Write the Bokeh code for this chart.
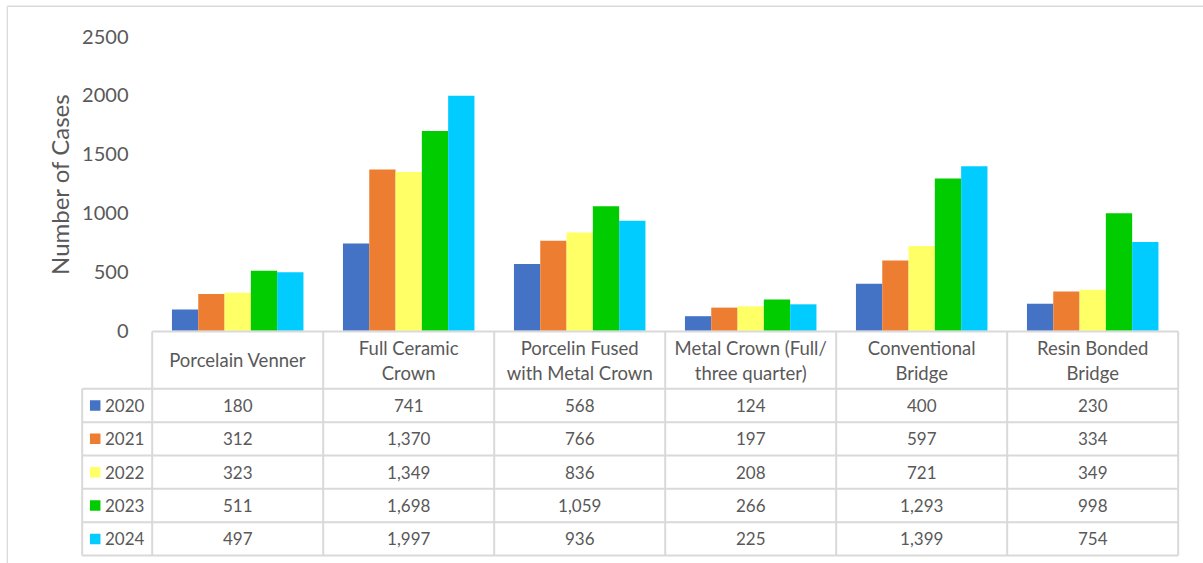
import math
from bokeh.plotting import figure
from bokeh.models import Range1d, FixedTicker
from bokeh.core.properties import value
from bokeh.embed import file_html
from bokeh.resources import INLINE

# ---------------- data ----------------
categories = ["Porcelain Venner", "Full Ceramic\nCrown", "Porcelin Fused\nwith Metal Crown",
              "Metal Crown (Full/\nthree quarter)", "Conventional\nBridge", "Resin Bonded\nBridge"]
years = ["2020", "2021", "2022", "2023", "2024"]
v2020 = [180, 741, 568, 124, 400, 230]
v2021 = [312, 1370, 766, 197, 597, 334]
v2022 = [323, 1349, 836, 208, 721, 349]
v2023 = [511, 1698, 1059, 266, 1293, 998]
v2024 = [497, 1997, 936, 225, 1399, 754]
series = [v2020, v2021, v2022, v2023, v2024]
colors = ["#4472C4", "#ED7D31", "#FFFF66", "#00CC00", "#00CCFF"]
y_ticks = [0, 500, 1000, 1500, 2000, 2500]
y_title = "Number of Cases"

# ---------------- layout constants (page pixels) ----------------
W, H = 1203, 563
LEFT = 6                       # left panel width
CAT_PX = 171.0                 # width of one category column
CAT0 = 151.7                   # page x of first category column
ZERO = 330.3                   # page y of value 0
PPU = 0.1177                   # pixels per value unit
FONT_NAME = "Lato"
FONT = value(FONT_NAME)
TXT = "#595959"
GRID = "#D9D9D9"

x_start = (LEFT - CAT0) / CAT_PX
x_end = (W - CAT0) / CAT_PX
y_top = ZERO / PPU
y_bot = -(H - ZERO) / PPU

p = figure(width=W, height=H, output_backend="svg", toolbar_location=None,
           x_range=Range1d(x_start, x_end), y_range=Range1d(y_bot, y_top),
           x_axis_location=None, y_axis_location="left",
           min_border_left=LEFT, min_border_right=0, min_border_top=0, min_border_bottom=0)
p.outline_line_color = None
p.grid.visible = False
p.background_fill_color = "white"
p.border_fill_color = "white"
p.extra_x_ranges = {"px": Range1d(start=LEFT, end=W)}
p.extra_y_ranges = {"tbl": Range1d(start=H, end=0)}

# y axis (tick labels drawn just right of the axis line, as in the original)
ax = p.yaxis[0]
ax.ticker = FixedTicker(ticks=y_ticks)
ax.axis_line_color = None
ax.major_tick_line_color = None
ax.minor_tick_line_color = None
ax.major_tick_out = 0
ax.major_tick_in = 0
ax.major_label_standoff = -122
ax.major_label_text_font = FONT_NAME
ax.major_label_text_font_size = "20px"
ax.major_label_text_color = TXT

# y axis title
p.text(x=[58.8], y=[183.7], text=[y_title], angle=math.pi / 2,
       x_range_name="px", y_range_name="tbl", text_align="center", text_baseline="middle",
       text_font=FONT, text_font_size="24px", text_color=TXT)

# outer chart border
p.segment(x0=[6.7, 6.7], x1=[6.7, W], y0=[5.7, 5.7], y1=[H, 5.7],
          x_range_name="px", y_range_name="tbl", line_color=GRID, line_width=1.5)

# bars
bw = 26.3 / CAT_PX
n = len(categories)
for j, (yr, vals, c) in enumerate(zip(years, series, colors)):
    xs = [i + 0.5 + (j - 2) * bw for i in range(n)]
    p.vbar(x=xs, top=vals, bottom=0, width=bw, fill_color=c, line_color=None)

# ---------------- data table ----------------
hdr_top = 331.0
row_top = 388.3
row_h = 33.35
leg_left = (81.7 - CAT0) / CAT_PX
n_rows = len(years)
tbl_bottom = row_top + n_rows * row_h

# grid lines
hx0, hx1, hy = [0], [n], [hdr_top]
for k in range(n_rows + 1):
    hx0.append(leg_left); hx1.append(n); hy.append(row_top + k * row_h)
p.segment(x0=hx0, x1=hx1, y0=hy, y1=hy, y_range_name="tbl", line_color=GRID, line_width=2)
vx = list(range(n + 1)) + [leg_left]
vy0 = [hdr_top] * (n + 1) + [row_top]
vy1 = [tbl_bottom] * (n + 2)
p.segment(x0=vx, x1=vx, y0=vy0, y1=vy1, y_range_name="tbl", line_color=GRID, line_width=2)

# header texts (one or two lines)
hc = (hdr_top + row_top) / 2
hx, hyy, ht = [], [], []
for i, cat in enumerate(categories):
    lines = cat.split("\n")
    m = len(lines)
    for li, t in enumerate(lines):
        hx.append(i + 0.5)
        hyy.append(hc + (li - (m - 1) / 2) * 25.0)
        ht.append(t)
p.text(x=hx, y=hyy, text=ht, y_range_name="tbl", text_align="center", text_baseline="middle",
       text_font=FONT, text_font_size="18.5px", text_color=TXT)

# rows
for k, (yr, vals, c) in enumerate(zip(years, series, colors)):
    yc = row_top + (k + 0.5) * row_h
    p.text(x=[i + 0.5 for i in range(n)], y=[yc] * n, text=[f"{v:,}" for v in vals],
           y_range_name="tbl", text_align="center", text_baseline="middle",
           text_font=FONT, text_font_size="17px", text_color=TXT)
    p.rect(x=[(94.7 - CAT0) / CAT_PX], y=[yc], width=10.5, height=10.5,
           width_units="screen", height_units="screen", y_range_name="tbl",
           fill_color=c, line_color=None)
    p.text(x=[(104.5 - CAT0) / CAT_PX], y=[yc], text=[yr], y_range_name="tbl",
           text_align="left", text_baseline="middle",
           text_font=FONT, text_font_size="17px", text_color=TXT)

open("out.html", "w").write(file_html(p, INLINE))
